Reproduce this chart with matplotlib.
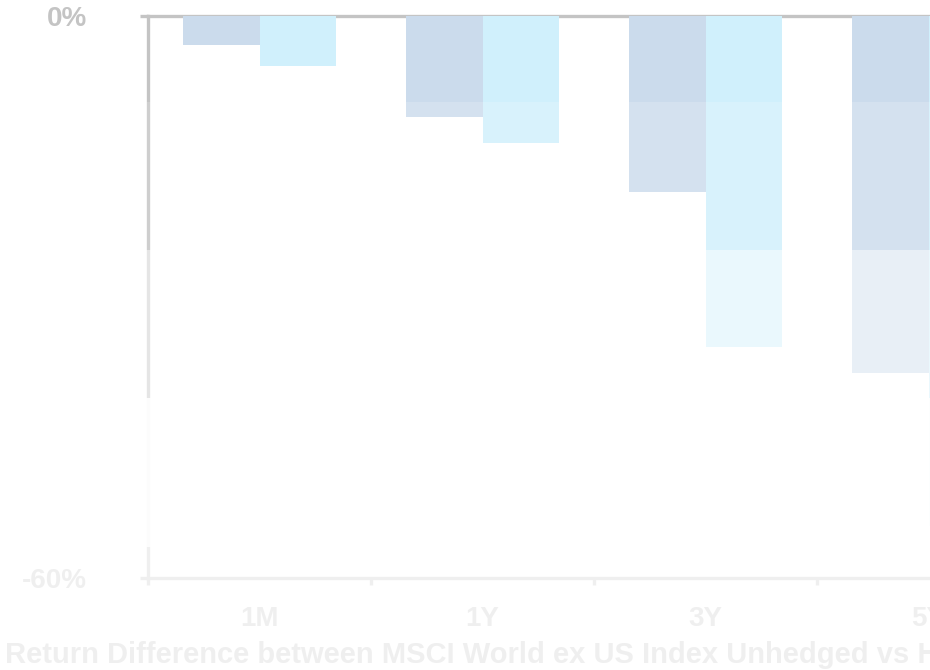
import matplotlib
matplotlib.use("Agg")
import matplotlib.pyplot as plt
from matplotlib.patches import Rectangle
import numpy as np

plt.rcParams['font.family'] = ['Liberation Sans', 'DejaVu Sans']
plt.rcParams['font.weight'] = 'bold'

# return difference per period, in percent
periods = ['1M', '1Y', '3Y', '5Y']
unhedged_diff = [-3.1, -10.8, -18.8, -38.1]
hedged_diff = [-5.3, -13.6, -35.3, -54.5]
y_ticks = [0, -60]
y_tick_labels = ['0%', '-60%']
x_title = 'Return Difference between MSCI World ex US Index Unhedged vs Hedged'

W, H = 930, 670
fig = plt.figure(figsize=(W / 100, H / 100), dpi=100)
fig.patch.set_facecolor('white')

# axes run past the right edge of the figure
ax = fig.add_axes([148 / W, 92 / H, 892 / W, 562 / H])
ax.set_xlim(-0.5, 3.5)
ax.set_ylim(-60, 0)

grey = '#c4c4c4'
x = np.arange(len(periods))
w = 0.345
ax.bar(x - w / 2, unhedged_diff, width=w, color='#cbdbec', zorder=3)
ax.bar(x + w / 2, hedged_diff, width=w, color='#d0f0fc', zorder=3)

ax.axhline(0, color=grey, lw=2.4, zorder=2, clip_on=False)

for side in ['top', 'right']:
    ax.spines[side].set_visible(False)
for side in ['left', 'bottom']:
    ax.spines[side].set_color(grey)
    ax.spines[side].set_linewidth(2.4)

ax.set_yticks(y_ticks)
ax.set_yticklabels(y_tick_labels)
ax.tick_params(axis='y', length=6, width=2.4, color=grey, pad=38,
               labelsize=20, labelcolor=grey)

ax.set_xticks(x)
ax.set_xticklabels(periods)
ax.set_xticks([-0.5, 0.5, 1.5, 2.5, 3.5], minor=True)
ax.tick_params(axis='x', which='major', length=0, pad=20,
               labelsize=20, labelcolor=grey)
ax.tick_params(axis='x', which='minor', length=5, width=2.4, color=grey)

fig.text(5 / W, 7 / H, x_title, fontsize=21, color=grey,
         ha='left', va='baseline')

# stepped white fade over the lower part of the figure
fade = [(102, 250, 0.18), (250, 398, 0.56), (398, 547, 0.96), (547, 670, 0.74)]
for top, bottom, a in fade:
    fig.add_artist(Rectangle((0, (H - bottom) / H), 1, (bottom - top) / H,
                             transform=fig.transFigure, facecolor='white',
                             edgecolor='none', alpha=a, zorder=10))

fig.savefig('out.png', dpi=100, facecolor='white')
